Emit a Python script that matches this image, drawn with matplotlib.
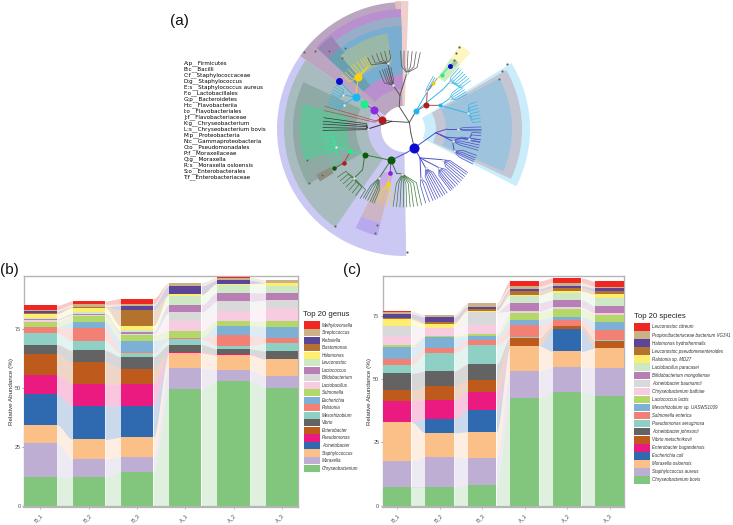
import numpy as np
import matplotlib
matplotlib.use("Agg")
import matplotlib.pyplot as plt
from matplotlib.patches import Rectangle
from matplotlib.transforms import ScaledTranslation

W, H = 733, 525
plt.rcParams['font.family'] = ['Liberation Sans', 'DejaVu Sans']

samples = ['B_1', 'B_2', 'B_3', 'A_1', 'A_2', 'A_3']
colors = ['#82c67d', '#beaed4', '#fbbf88', '#2f6ab0', '#ea1a80', '#bd5a1c', '#636363', '#8fd0c5',
          '#f28074', '#7eb0d5', '#b3d869', '#f7cbe0', '#d9d9d9', '#b97eb5', '#cde8c4', '#fdee6f',
          '#b4722f', '#5c4497', '#cbb188', '#ee2722']

genus = ['Chryseobacterium', 'Moraxella', 'Staphylococcus', 'Acinetobacter', 'Pseudomonas', 'Enterobacter',
         'Vibrio', 'Mesorhizobium', 'Ralstonia', 'Escherichia', 'Salmonella', 'Lactobacillus', 'Bifidobacterium',
         'Lactococcus', 'Leuconostoc', 'Halomonas', 'Blastomonas', 'Klebsiella', 'Streptococcus', 'Methylovorsella']
g_B1 = [12.1, 14.7, 7.5, 12.9, 8.2, 8.9, 4.0, 4.8, 2.5, 0.05, 2.4, 0.6, 0.05, 0.6, 0.3, 1.8, 0.3, 0.7, 0.7, 1.8]
g_B2 = [12.0, 7.8, 8.3, 14.1, 9.3, 9.2, 5.1, 4.1, 5.2, 2.8, 2.5, 0.15, 0.15, 0.7, 0.55, 2.0, 0.3, 0.05, 1.0, 1.4]
g_B3 = [14.4, 6.4, 8.2, 13.4, 9.2, 6.5, 5.1, 1.4, 0.6, 4.7, 2.4, 0.15, 0.4, 0.85, 0.7, 1.8, 6.9, 1.7, 0.7, 2.3]
g_A1 = [49.4, 8.8, 6.5, 0.05, 0.3, 0.05, 3.1, 2.3, 0.6, 0.05, 3.0, 4.1, 3.8, 3.1, 3.5, 0.85, 0.05, 3.5, 1.4, 0.05]
g_A2 = [52.8, 4.8, 6.2, 0.05, 0.3, 0.05, 2.3, 1.3, 4.4, 4.1, 2.0, 4.1, 4.2, 3.7, 3.1, 0.7, 0.05, 1.4, 1.1, 0.05]
g_A3 = [50.0, 4.9, 7.2, 0.05, 0.15, 0.05, 3.2, 3.2, 2.5, 4.4, 2.5, 5.8, 3.1, 3.1, 3.1, 1.1, 0.05, 0.05, 1.1, 0.05]

species = ['Chryseobacterium bovis', 'Staphylococcus aureus', 'Moraxella osloensis', 'Escherichia coli',
           'Enterobacter bugandensis', 'Vibrio metschnikovii', 'Acinetobacter johnsonii', 'Pseudomonas aeruginosa',
           'Salmonella enterica', 'Mesorhizobium sp. UASWS1009', 'Lactococcus lactis', 'Chryseobacterium bathiae',
           'Acinetobacter baumannii', 'Bifidobacterium mongoliense', 'Lactobacillus paracasei', 'Ralstonia sp. MD27',
           'Leuconostoc pseudomesenteroides', 'Halomonas hydrothermalis', 'Propionibacteriaceae bacterium VG341',
           'Leuconostoc citreum']
s_B1 = [7.4, 10.3, 15.4, 0.05, 8.3, 4.3, 6.6, 3.2, 2.5, 4.6, 1.05, 3.3, 4.1, 0.05, 0.05, 2.4, 0.65, 1.6, 0.9, 0.05]
s_B2 = [7.4, 11.7, 9.7, 5.5, 7.5, 5.4, 5.9, 7.1, 2.2, 4.1, 0.65, 3.0, 0.05, 0.05, 0.05, 1.6, 0.8, 1.8, 0.9, 0.05]
s_B3 = [8.2, 10.7, 10.3, 8.8, 7.0, 4.7, 6.3, 7.4, 2.1, 1.6, 0.8, 3.6, 5.0, 0.1, 0.05, 0.5, 0.5, 1.05, 1.3, 0.05]
s_A1 = [42.7, 10.5, 9.9, 0.05, 0.05, 3.2, 0.05, 0.1, 4.7, 2.1, 3.0, 0.4, 0.05, 3.4, 2.8, 0.3, 1.6, 0.9, 0.9, 2.1]
s_A2 = [44.8, 9.9, 6.3, 8.7, 0.05, 1.3, 0.05, 0.1, 2.2, 1.2, 3.2, 0.5, 0.05, 3.0, 2.9, 0.5, 1.45, 0.8, 1.2, 1.8]
s_A3 = [43.5, 10.9, 7.9, 0.05, 0.05, 2.8, 0.05, 0.1, 4.0, 3.3, 2.9, 0.5, 0.05, 2.8, 3.2, 1.45, 1.2, 1.2, 0.65, 2.1]

yticks = [0, 25, 50, 75]
clade_labels = ['A:p__Firmicutes', 'B:c__Bacilli', 'C:f__Staphylococcaceae', 'D:g__Staphylococcus',
                'E:s__Staphylococcus aureus', 'F:o__Lactobacillales', 'G:p__Bacteroidetes', 'H:c__Flavobacteriia',
                'I:o__Flavobacteriales', 'J:f__Flavobacteriaceae', 'K:g__Chryseobacterium',
                'L:s__Chryseobacterium bovis', 'M:p__Proteobacteria', 'N:c__Gammaproteobacteria',
                'O:o__Pseudomonadales', 'P:f__Moraxellaceae', 'Q:g__Moraxella', 'R:s__Moraxella osloensis',
                'S:o__Enterobacterales', 'T:f__Enterobacteriaceae']

# Cladogram: wedges = (theta start, theta end, inner r, outer r, colour)
wedges = [
    (145, 271, 23, 127, '#cbc8f3'), (91, 145, 23, 127, '#bba5c0'), (88, 91.5, 23, 128, '#efd0cd'),
    (91.5, 94, 23, 128, '#e3bfc0'),
    (91.5, 137, 40, 120, '#b98fd0'), (91.5, 137, 55, 112, '#9aadc8'), (91.5, 137, 55, 103, '#7aaed0'),
    (128, 137, 103, 118, '#9a85b5'), (128, 137, 55, 103, '#6a9fb0'), (100, 131, 68, 97, '#9ab8a8'),
    (145, 235, 36, 120, '#a8bcc0'), (155, 210, 48, 111, '#8fa9a5'), (166, 198, 57, 104, '#6abf9b'),
    (207.5, 212, 83, 99, '#8f8f7f'),
    (244, 256, 47, 60, '#c8aaea'), (244, 256, 60, 97, '#cdb5c5'), (244, 256, 97, 110, '#b8a8ee'),
    (-27, 31.5, 21, 126, '#c9edfb'), (-25, 30, 32, 118, '#c5c6d3'), (-23, 28, 42, 108, '#9ec3dc'),
    (49, 56.5, 67, 101, '#fdf6bf'), (49, 56.5, 62, 85, '#cdeec0'), (51, 54, 80, 86, '#a9c5a5'),
]
# Tree fans = (colour, hub theta, hub r, knot r, leaf r, leaf thetas)
fans = [
    ('#555555', 104, 68, 72, 80, [100.6, 104, 107, 110, 113.5, 117]),
    ('#555555', 104, 45, 50, 63, [102, 104, 106, 108, 110, 113]),
    ('#555555', 87, 56, 63, 78, [78, 81, 84, 87, 90, 92.4]),
    ('#333333', 180, 36, 38, 81, [172, 174.5, 176.5, 179, 181]),
    ('#b84a4a', 158, 26, 30, 82, [164, 167]),
    ('#35b5e8', 150.7, 70, 72, 81, [147, 149, 151, 153, 154.5]),
    ('#35b5e8', 158, 65, 68, 80, [156, 158, 160, 161.5, 163.5]),
    ('#f3d23a', 131.5, 69, 72, 82, [118, 120, 122, 125, 128, 130, 133, 136, 139]),
    ('#35b5e8', 45.8, 66, 70, 82, [36, 38, 40, 42, 44, 46, 48]),
    ('#35b5e8', 33.7, 55, 60, 72, [29, 31, 33, 35, 37]),
    ('#35b5e8', 13.8, 66, 69, 77, [5.4, 8, 10.5, 13, 15.5, 18, 20.6]),
    ('#35b5e8', 60, 44, 48, 60, [57, 59, 61]),
    ('#4a4fc8', 0, 54, 60, 77, [-1.5, 0, 1.5]),
    ('#4a4fc8', -8.7, 66, 68, 77, [-3, -5, -8, -10]),
    ('#4a4fc8', -14, 50, 58, 77, [-8, -9.5, -12, -14, -16]),
    ('#4a4fc8', -24, 55, 62, 77, [-20, -22, -23.6, -25, -27]),
    ('#4a4fc8', -38, 50, 56, 77, [-34.4, -36, -38, -40, -42]),
    ('#4a4fc8', -48, 52, 58, 77, [-44, -46, -48, -50, -51.5, -53]),
    ('#4a4fc8', -61, 45, 52, 77, [-56, -58, -60, -62, -64, -66]),
    ('#4a4fc8', -71, 52, 58, 77, [-68, -70.7, -73.7]),
    ('#3d7a3d', 268, 45, 55, 78, [262, 264.5, 267, 269.5, 272, 274.5, 277, 280, 283]),
    ('#3d7a3d', 243, 55, 66, 80, [239.5, 241, 243, 245, 246.5, 248]),
    ('#3d7a3d', 224.6, 70, 72, 82, [216, 219, 222, 225, 228, 231, 234, 237.7]),
    ('#f3d23a', 253.3, 57, 66, 78, [250, 252, 254.5, 257, 260]),
    ('#2ee89a', 194.7, 70, 72, 81, [183, 186, 189, 192, 195, 198, 201, 205]),
]
# Tree links = (colour, theta 1, r 1, theta 2, r 2)
links = [
    ('#555555', 51, 8.5, 56.3, 21.6), ('#555555', 51, 8.5, -31, 8), ('#555555', -31, 8, -61.5, 21.6),
    ('#555555', 51, 8.5, 148, 14.5), ('#555555', 148, 14.5, 158.3, 24), ('#555555', 51, 8.5, 102, 23),
    ('#555555', 102, 23, 96.8, 34), ('#555555', 96.8, 34, 104, 45), ('#555555', 104, 45, 104, 68),
    ('#555555', 96.8, 34, 87, 56), ('#333333', 148, 14.5, 180, 36),
    ('#4a4fc8', -61.5, 21.6, 275, 24), ('#4a4fc8', 275, 24, 247.2, 34),
    ('#b84a4a', 158.3, 24, 147.6, 35), ('#9440c8', 147.6, 35, 147.2, 47), ('#2ee89a', 147.2, 47, 146.7, 58),
    ('#35b5e8', 146.7, 58, 143.7, 81), ('#35b5e8', 146.7, 58, 150.7, 70), ('#35b5e8', 146.7, 58, 158, 65),
    ('#f3d23a', 146.7, 58, 131.5, 69),
    ('#35b5e8', 56.3, 21.6, 58, 44), ('#35b5e8', 58, 44, 60, 44), ('#b84a4a', 56.3, 21.6, 46.7, 32.5),
    ('#b84a4a', 46.7, 32.5, 33.4, 43), ('#b84a4a', 46.7, 32.5, 58, 44), ('#b84a4a', 58, 44, 57.6, 55),
    ('#35b5e8', 33.4, 43, 13.8, 66), ('#35b5e8', 33.4, 43, 33.7, 55), ('#35b5e8', 56.3, 21.6, 45.5, 55),
    ('#35b5e8', 45.5, 55, 45.8, 66), ('#f3d23a', 57.6, 55, 55.2, 66), ('#2ee89a', 55.2, 66, 54, 78),
    ('#4a4fc8', -61.5, 21.6, -6.6, 32), ('#4a4fc8', -6.6, 32, 0, 43), ('#4a4fc8', 0, 43, 0, 54),
    ('#4a4fc8', -6.6, 32, -11, 43), ('#4a4fc8', -11, 43, -8.7, 66), ('#4a4fc8', -6.6, 32, -14, 50),
    ('#4a4fc8', -14, 50, -24, 55),
    ('#4a4fc8', -61.5, 21.6, -61, 33), ('#4a4fc8', -61, 33, -38, 50), ('#4a4fc8', -61, 33, -48, 52),
    ('#4a4fc8', -61, 33, -61, 45), ('#4a4fc8', -61, 33, -71, 52),
    ('#3d7a3d', 247.2, 34, 213.3, 47), ('#3d7a3d', 213.3, 47, 224.5, 58), ('#3d7a3d', 224.5, 58, 224.6, 70),
    ('#3d7a3d', 247.2, 34, 260.5, 45), ('#3d7a3d', 260.5, 45, 268, 45), ('#3d7a3d', 247.2, 34, 243, 55),
    ('#9440c8', 247.2, 34, 252.6, 46), ('#f3d23a', 252.6, 46, 253.3, 57),
    ('#2ee89a', 213.3, 47, 202.6, 58), ('#2ee89a', 202.6, 58, 194.7, 70),
    ('#b84a4a', 202.6, 58, 209.4, 69), ('#3d7a3d', 209.4, 69, 209.5, 80),
]
# Coloured clade nodes = (theta, r, diameter in px, colour)
nodes = [
    (-61.5, 21.6, 10, '#0b0bd0'), (247.2, 34, 8, '#0a5a0a'), (252.6, 46, 4.7, '#8a22d8'), (253.3, 57, 5, '#f5d312'),
    (158.3, 24, 8, '#b01c1c'), (147.6, 35, 8, '#8a2be2'), (147.2, 47, 8, '#1cf08a'), (146.7, 58, 8, '#18b8f2'),
    (143.7, 81, 7, '#0b0bd0'), (131.5, 69, 8, '#fbd30c'), (56.3, 21.6, 6, '#18b8f2'), (46.7, 32.5, 6, '#b01c1c'),
    (33.4, 43, 4, '#18b8f2'), (57.6, 55, 4, '#f5c518'), (55.2, 66, 4, '#1cf08a'), (54, 78, 5, '#0b0bd0'),
    (213.3, 47, 6, '#0a5a0a'), (202.6, 58, 5, '#1cf08a'), (209.4, 69, 4.5, '#b01c1c'), (209.5, 80, 4.5, '#0a5a0a'),
]
corner_thetas = [142.3, 138.9, 131, 197.5, 209.7, 234.5, 271.2, 254.4, 254.2, 32.3, 30.8, 27.9, 56.2, 55.6, 54, 209,
                 134, 126]
corner_radii = [126, 118, 94, 102, 109, 119, 123, 108, 100, 122, 114, 107, 99, 92, 85, 94, 108, 100]

fig = plt.figure(figsize=(W / 100, H / 100), dpi=100, facecolor='white')


def px_axes(x0, y0, x1, y1, **kw):
    return fig.add_axes([x0 / W, 1 - y1 / H, (x1 - x0) / W, (y1 - y0) / H], **kw)


# ---------- (a) cladogram ----------
cx, cy, rr = 404, 129, 130
pol = px_axes(cx - rr, cy - rr, cx + rr, cy + rr, projection='polar')
pol.set_ylim(0, rr)
pol.set_axis_off()
pol.patch.set_alpha(0)
for t0, t1, r0, r1, col in wedges:
    pol.bar(np.radians((t0 + t1) / 2), r1 - r0, width=np.radians(t1 - t0), bottom=r0, color=col, lw=0, zorder=1)
lw_tree = 0.5
hub_t, hub_r = [], []
for col, t1, r1, t2, r2 in links:
    pol.plot(np.radians([t1, t2]), [r1, r2], color=col, lw=lw_tree + 0.2, zorder=3, solid_capstyle='round')
for col, ht, hr, kr, lr, leaves in fans:
    hub_t.append(ht)
    hub_r.append(hr)
    for lt in leaves:
        pol.plot(np.radians([ht, lt, lt]), [hr, kr, lr], color=col, lw=lw_tree, zorder=3)
pol.scatter(np.radians(hub_t), hub_r, s=3.5, c='#f4f4f4', edgecolors='#aaaaaa', linewidths=0.25, zorder=4)
pol.scatter(np.radians(corner_thetas), corner_radii, s=2, c='#555555', edgecolors='#999999', linewidths=0.25, zorder=4)
for t, r, d, col in nodes:
    pol.scatter(np.radians(t), r, s=(d * 0.72) ** 2, c=col, linewidths=0, zorder=5)


# ---------- stream panels ----------
def smooth(t):
    return t * t * (3 - 2 * t)


def stacked(ax, rows, labels_colors, label_x):
    vals = np.array(rows)
    tops = np.cumsum(vals, axis=1)
    bots = tops - vals
    w = 0.67
    xs = np.arange(1, len(samples) + 1)
    for j, col in enumerate(labels_colors):
        ax.bar(xs, vals[:, j], width=w, bottom=bots[:, j], color=col, lw=0, zorder=3)
        for i in range(len(xs) - 1):
            t = np.linspace(0, 1, 40)
            s = smooth(t)
            xx = xs[i] + w / 2 + t * (1 - w)
            ax.fill_between(xx, bots[i, j] + s * (bots[i + 1, j] - bots[i, j]),
                            tops[i, j] + s * (tops[i + 1, j] - tops[i, j]),
                            color=col, alpha=0.25, lw=0, zorder=2)
    ax.set_xlim(1 - w / 2, 6 + w / 2)
    ax.set_xticks(xs)
    ax.set_xticklabels(samples, rotation=45, ha='right', rotation_mode='anchor', fontsize=4.0, color='#4d4d4d')
    off = ScaledTranslation(-2 / 100, 0, fig.dpi_scale_trans)
    for lab in ax.get_xticklabels():
        lab.set_transform(lab.get_transform() + off)
    ax.set_yticks(yticks)
    ax.tick_params(axis='y', labelsize=4.0, labelcolor='#4d4d4d', length=1.5, width=0.5, color='#777777', pad=1)
    ax.tick_params(axis='x', length=1.5, width=0.5, color='#999999', pad=2.5)
    for name, sp in ax.spines.items():
        sp.set_color('#b5b5b5')
        sp.set_linewidth(1.0)
    ax.spines['bottom'].set_linewidth(1.6)
    ax.set_ylabel('Relative Abundance (%)', fontsize=4.5, color='#333333')
    ax.yaxis.set_label_coords(label_x, 0.5)


axb = px_axes(24.3, 275.7, 298, 507)
stacked(axb, [g_B1, g_B2, g_B3, g_A1, g_A2, g_A3], colors, -0.036)
axb.set_ylim(-0.5, 230 / 2.36)
axc = px_axes(382.7, 275.7, 624, 507)
stacked(axc, [s_B1, s_B2, s_B3, s_A1, s_A2, s_A3], colors, -0.044)
axc.set_ylim(-0.5, 230 / 2.53)


# ---------- overlay for panel letters, lists and legends ----------
ov = fig.add_axes([0, 0, 1, 1])
ov.set_xlim(0, W)
ov.set_ylim(H, 0)
ov.set_axis_off()
ov.patch.set_alpha(0)

ov.text(170, 21, '(a)', fontsize=11, va='center', color='#111111')
ov.text(0, 270, '(b)', fontsize=11, va='center', color='#111111')
ov.text(343, 270, '(c)', fontsize=11, va='center', color='#111111')

for i, lab in enumerate(clade_labels):
    ov.text(184, 62.7 + i * 6.02, lab, fontsize=4.05, va='center', color='black', family='DejaVu Sans')


def legend(title, names, x, ytitle, y0, step, h):
    ov.text(x - 0.5, ytitle, title, fontsize=5.6, va='center', color='#222222')
    for i, (nm, col) in enumerate(zip(names[::-1], colors[::-1])):
        yy = y0 + i * step
        ov.add_patch(Rectangle((x, yy - h / 2), 16, h, color=col, lw=0))
        ov.text(x + 18.5, yy, nm, fontsize=3.25, style='italic', va='center', color='#333333')


legend('Top 20 genus', genus, 303.5, 314.5, 325, 7.53, 7.1)
legend('Top 20 species', species, 634, 316, 327, 8.05, 7.6)

fig.savefig('out.png', dpi=100, facecolor='white')
